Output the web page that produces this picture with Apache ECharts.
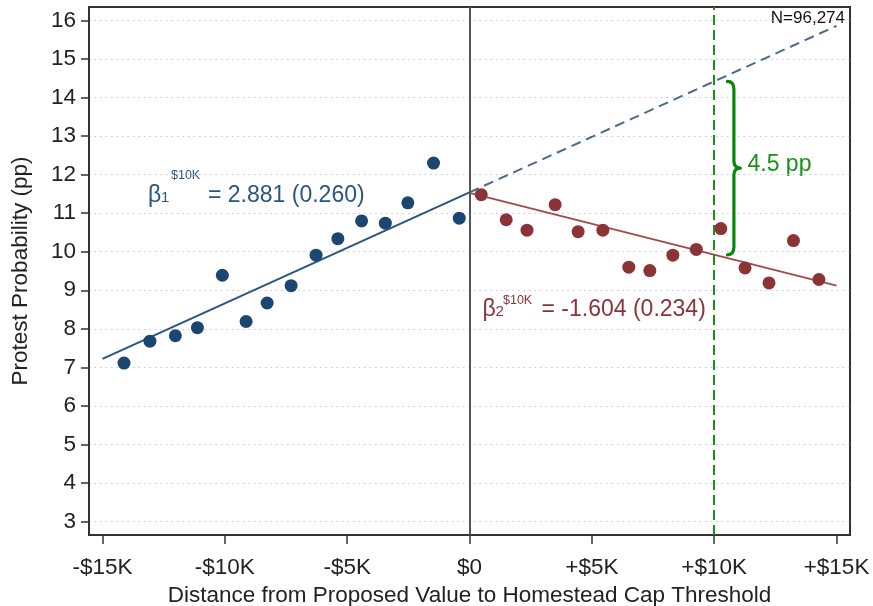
<!DOCTYPE html>
<html>
<head>
<meta charset="utf-8">
<script src="https://cdn.jsdelivr.net/npm/echarts@6/dist/echarts.min.js"></script>
<style>
  html, body { margin: 0; padding: 0; background: #fff; }
  #chart { width: 873px; height: 606px; }
</style>
</head>
<body>
<div id="chart"></div>
<script>
// Binned means: distance to threshold ($K) and protest probability (pp)
const binXBelow = [-14.12, -13.06, -12.02, -11.12, -10.10, -9.13, -8.27, -7.29, -6.27, -5.38, -4.41, -3.44, -2.52, -1.47, -0.42];
const probBelow = [7.11, 7.68, 7.82, 8.03, 9.39, 8.19, 8.67, 9.12, 9.91, 10.34, 10.80, 10.74, 11.27, 12.30, 10.87];
const binXAbove = [0.48, 1.50, 2.35, 3.50, 4.44, 5.45, 6.51, 7.37, 8.31, 9.27, 10.27, 11.26, 12.24, 13.24, 14.28];
const probAbove = [11.48, 10.83, 10.56, 11.22, 10.52, 10.56, 9.60, 9.51, 9.91, 10.06, 10.60, 9.58, 9.19, 10.29, 9.28];

// Fitted lines (endpoints)
const fitBelowX = [-15, 0];
const fitBelowY = [7.22, 11.54];
const fitProjX = [0, 15];
const fitProjY = [11.54, 15.86];
const fitAboveX = [0, 15];
const fitAboveY = [11.53, 9.12];

// Gap at the +$10K cap
const capX = 10;
const gapX = 10.54;
const gapBase = 9.92;
const gapPP = 4.5;

// Axis ticks
const xTicks = [-15, -10, -5, 0, 5, 10, 15];
const yTicks = [3, 4, 5, 6, 7, 8, 9, 10, 11, 12, 13, 14, 15, 16];

const FONT = '"Liberation Sans", Arial, Helvetica, sans-serif';
const BLUE_DOT = '#1b4670';
const BLUE_LINE = '#2a5580';
const BLUE_DASH = '#4a6a8e';
const RED_DOT = '#8c3338';
const RED_LINE = '#a24a4a';
const GREEN = '#1a8f1a';
const BRACE = '#0a870a';

const zip = (xs, ys) => xs.map((x, i) => [x, ys[i]]);

function fmtDollars(v) {
  if (v === 0) return '$0';
  return (v < 0 ? '-$' : '+$') + Math.abs(v) + 'K';
}

const chart = echarts.init(document.getElementById('chart'), null, { renderer: 'canvas' });

const option = {
  animation: false,
  backgroundColor: '#ffffff',
  textStyle: { fontFamily: FONT },
  grid: {
    left: 89, right: 23, top: 7, bottom: 71,
    outerBoundsMode: 'none',
    containLabel: false,
    show: true, borderColor: '#333', borderWidth: 2, backgroundColor: 'transparent'
  },
  xAxis: {
    type: 'value',
    min: -15.55, max: 15.55,
    name: 'Distance from Proposed Value to Homestead Cap Threshold',
    nameLocation: 'middle',
    nameGap: 48.5,
    nameTextStyle: { fontSize: 22.5, color: '#222', fontFamily: FONT },
    axisLine: { show: true, onZero: false, lineStyle: { color: '#333', width: 2 } },
    axisTick: { show: true, length: 9, lineStyle: { color: '#333', width: 1.5 }, customValues: xTicks },
    axisLabel: { fontSize: 22.5, color: '#222', margin: 21, fontFamily: FONT, customValues: xTicks, formatter: fmtDollars },
    splitLine: { show: false }
  },
  yAxis: {
    type: 'value',
    min: 2.65, max: 16.35,
    name: 'Protest Probability (pp)',
    nameLocation: 'middle',
    nameGap: 57,
    nameTextStyle: { fontSize: 22.5, color: '#222', fontFamily: FONT },
    axisLine: { show: true, onZero: false, lineStyle: { color: '#333', width: 2 } },
    axisTick: { show: true, length: 8, lineStyle: { color: '#333', width: 1.5 }, customValues: yTicks },
    axisLabel: { fontSize: 22.5, color: '#222', margin: 13, fontFamily: FONT, customValues: yTicks },
    splitLine: { show: true, lineStyle: { color: '#c8c8c8', type: [1.5, 4], width: 1.2 } }
  },
  series: [
    {
      name: 'Fit below',
      type: 'line',
      data: zip(fitBelowX, fitBelowY),
      showSymbol: false,
      lineStyle: { color: BLUE_LINE, width: 2 },
      z: 3,
      markLine: {
        silent: true,
        symbol: 'none',
        label: { show: false },
        data: [
          { xAxis: 0, lineStyle: { color: '#555', width: 2, type: 'solid' } },
          { xAxis: capX, lineStyle: { color: GREEN, width: 2, type: [10, 5] } }
        ]
      }
    },
    {
      name: 'Projection',
      type: 'line',
      data: zip(fitProjX, fitProjY),
      showSymbol: false,
      lineStyle: { color: BLUE_DASH, width: 2, type: [10, 6] },
      z: 3
    },
    {
      name: 'Fit above',
      type: 'line',
      data: zip(fitAboveX, fitAboveY),
      showSymbol: false,
      lineStyle: { color: RED_LINE, width: 1.8 },
      z: 3
    },
    {
      name: 'Below threshold',
      type: 'scatter',
      data: zip(binXBelow, probBelow),
      symbolSize: 13,
      itemStyle: { color: BLUE_DOT, opacity: 1 },
      z: 4
    },
    {
      name: 'Above threshold',
      type: 'scatter',
      data: zip(binXAbove, probAbove),
      symbolSize: 13,
      itemStyle: { color: RED_DOT, opacity: 1 },
      z: 4
    },
    {
      // curly brace marking the gap between projected and actual fit
      name: 'Gap',
      type: 'custom',
      data: [[gapX, gapBase, gapBase + gapPP]],
      z: 5,
      renderItem: function (params, api) {
        const bottom = api.coord([api.value(0), api.value(1)]);
        const top = api.coord([api.value(0), api.value(2)]);
        const x0 = top[0], yT = top[1], yB = bottom[1];
        const yM = (yT + yB) / 2;
        const s = x0 + 6.5, tip = x0 + 13;
        const d = 'M' + x0 + ',' + yT +
          ' Q' + s + ',' + yT + ' ' + s + ',' + (yT + 8) +
          ' L' + s + ',' + (yM - 7) +
          ' Q' + s + ',' + yM + ' ' + tip + ',' + yM +
          ' Q' + s + ',' + yM + ' ' + s + ',' + (yM + 7) +
          ' L' + s + ',' + (yB - 8) +
          ' Q' + s + ',' + yB + ' ' + x0 + ',' + yB;
        return {
          type: 'path',
          shape: { pathData: d },
          style: { stroke: BRACE, lineWidth: 3.2, fill: null, lineJoin: 'round', lineCap: 'round' }
        };
      }
    }
  ],
  graphic: [
    // slope annotation, below threshold
    { type: 'text', x: 148, y: 195.5, style: { text: 'β', font: '23px ' + FONT, fill: BLUE_LINE, verticalAlign: 'middle' } },
    { type: 'text', x: 161, y: 198, style: { text: '1', font: '15px ' + FONT, fill: BLUE_LINE, verticalAlign: 'middle' } },
    { type: 'text', x: 171, y: 175.5, style: { text: '$10K', font: '12.5px ' + FONT, fill: BLUE_LINE, verticalAlign: 'middle' } },
    { type: 'text', x: 208, y: 195.5, style: { text: '= 2.881 (0.260)', font: '23px ' + FONT, fill: BLUE_LINE, verticalAlign: 'middle' } },
    // slope annotation, above threshold
    { type: 'text', x: 482.5, y: 309.5, style: { text: 'β', font: '23px ' + FONT, fill: RED_DOT, verticalAlign: 'middle' } },
    { type: 'text', x: 495.5, y: 312, style: { text: '2', font: '15px ' + FONT, fill: RED_DOT, verticalAlign: 'middle' } },
    { type: 'text', x: 503, y: 300.5, style: { text: '$10K', font: '12.5px ' + FONT, fill: RED_DOT, verticalAlign: 'middle' } },
    { type: 'text', x: 541.5, y: 309.5, style: { text: '= -1.604 (0.234)', font: '23px ' + FONT, fill: RED_DOT, verticalAlign: 'middle' } },
    // gap label
    { type: 'text', x: 747.5, y: 164.5, style: { text: '4.5 pp', font: '23px ' + FONT, fill: GREEN, verticalAlign: 'middle' } },
    // sample size
    { type: 'text', x: 845, y: 18.5, style: { text: 'N=96,274', font: '17px ' + FONT, fill: '#111', align: 'right', verticalAlign: 'middle' } }
  ]
};

chart.setOption(option);
</script>
</body>
</html>
